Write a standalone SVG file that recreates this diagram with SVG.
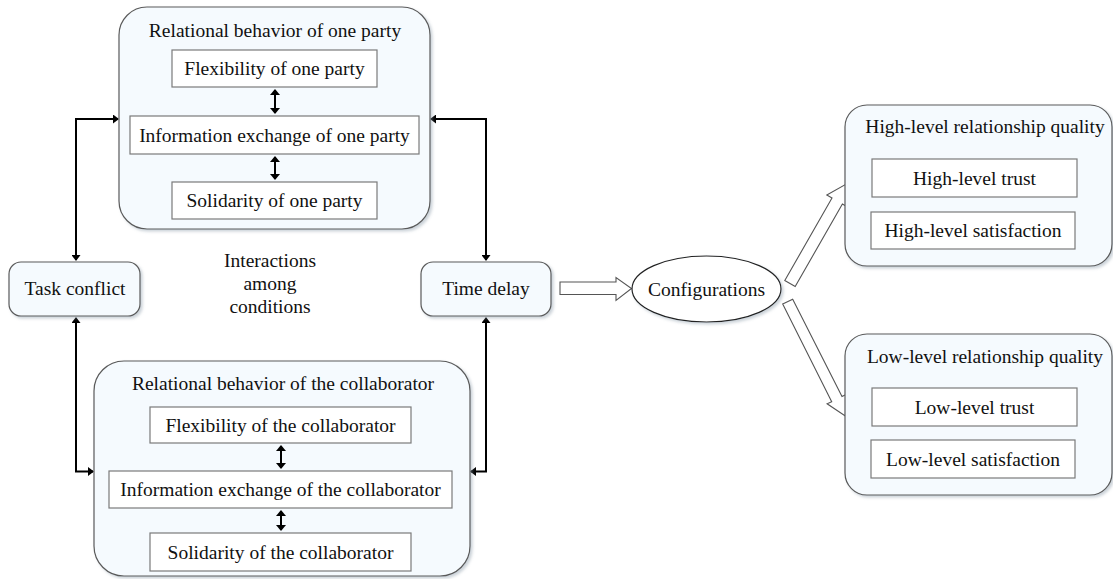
<svg xmlns="http://www.w3.org/2000/svg" width="1113" height="579" viewBox="0 0 1113 579">
<style>
text{font-family:"Liberation Serif","Times New Roman",serif;font-size:19.5px;fill:#111;text-anchor:middle}
.cont{fill:#f5fafe;stroke:#5a5a5a;stroke-width:1.2;filter:url(#sh)}
.box{fill:#fff;stroke:#7a7a7a;stroke-width:1.2}
.conn{fill:none;stroke:#000;stroke-width:2}
.blk{fill:#fff;stroke:#555;stroke-width:1.1}
</style>
<defs>
<filter id="sh" x="-10%" y="-10%" width="120%" height="120%">
<feDropShadow dx="2" dy="2" stdDeviation="1.5" flood-color="#8a9aa8" flood-opacity="0.45"/>
</filter>
<marker id="ah" viewBox="0 0 6 9" refX="5" refY="4.5" markerWidth="6" markerHeight="9" orient="auto-start-reverse" markerUnits="userSpaceOnUse">
<path d="M0,0 L6,4.5 L0,9 z" fill="#000"/>
</marker>
<marker id="ah2" viewBox="0 0 6 10" refX="5" refY="5" markerWidth="6" markerHeight="10" orient="auto-start-reverse" markerUnits="userSpaceOnUse">
<path d="M0,0 L6,5 L0,10 z" fill="#000"/>
</marker>
</defs>

<g id="connectors">
<path class="conn" d="M76,260 V119 H118" marker-start="url(#ah)" marker-end="url(#ah)"/>
<path class="conn" d="M76,318 V471.5 H93" marker-start="url(#ah)" marker-end="url(#ah)"/>
<path class="conn" d="M486,260 V119 H431" marker-start="url(#ah)" marker-end="url(#ah)"/>
<path class="conn" d="M486,318 V471.5 H471" marker-start="url(#ah)" marker-end="url(#ah)"/>
<polygon class="blk" points="560,282 616,282 616,277.5 631.5,288.5 616,300.5 616,294.5 560,294.5"/>
<polygon class="blk" points="784.8,280.5 832,198 826.8,195 847.1,183.6 847.6,207 842.4,204 795.2,286.5"/>
<polygon class="blk" points="792.7,299.3 842,396.5 846.6,394.2 845.3,416 827.1,403.8 831.7,401.7 782.7,304"/>
</g>

<g id="top-group">
<rect class="cont" x="119" y="7" width="311" height="222" rx="28" ry="28"/>
<text x="275" y="37">Relational behavior of one party</text>
</g>
<g id="flex-one">
<rect class="box" x="172" y="50" width="205" height="37"/>
<text x="274.5" y="75">Flexibility of one party</text>
</g>
<g id="info-one">
<rect class="box" x="130" y="116" width="289" height="38"/>
<text x="274.5" y="141.5">Information exchange of one party</text>
</g>
<g id="soli-one">
<rect class="box" x="172" y="182" width="205" height="37"/>
<text x="274.5" y="207">Solidarity of one party</text>
</g>
<g id="inner-arrows-one">
<path class="conn" d="M275,90 V113" marker-start="url(#ah2)" marker-end="url(#ah2)"/>
<path class="conn" d="M275,157 V179" marker-start="url(#ah2)" marker-end="url(#ah2)"/>
</g>

<g id="bottom-group">
<rect class="cont" x="94" y="361" width="376" height="215" rx="30" ry="30"/>
<text x="283" y="390">Relational behavior of the collaborator</text>
</g>
<g id="flex-col">
<rect class="box" x="150" y="407" width="261" height="36"/>
<text x="280.5" y="431.5">Flexibility of the collaborator</text>
</g>
<g id="info-col">
<rect class="box" x="109" y="471" width="343" height="37"/>
<text x="280.5" y="496">Information exchange of the collaborator</text>
</g>
<g id="soli-col">
<rect class="box" x="150" y="533" width="261" height="38"/>
<text x="280.5" y="558.5">Solidarity of the collaborator</text>
</g>
<g id="inner-arrows-col">
<path class="conn" d="M281,446 V468" marker-start="url(#ah2)" marker-end="url(#ah2)"/>
<path class="conn" d="M281,511 V530" marker-start="url(#ah2)" marker-end="url(#ah2)"/>
</g>

<g id="task-conflict">
<rect class="cont" x="9" y="262" width="131" height="54" rx="12" ry="12"/>
<text x="75" y="295">Task conflict</text>
</g>
<g id="time-delay">
<rect class="cont" x="421" y="262" width="130" height="54" rx="12" ry="12"/>
<text x="486" y="295">Time delay</text>
</g>
<g id="interactions">
<text x="270" y="267">Interactions</text>
<text x="270" y="290">among</text>
<text x="270" y="313">conditions</text>
</g>
<g id="configurations">
<ellipse cx="706.5" cy="289" rx="74.5" ry="33" fill="#fff" stroke="#222" stroke-width="1.2" filter="url(#sh)"/>
<text x="706.5" y="295.5">Configurations</text>
</g>

<g id="high-quality">
<rect class="cont" x="845" y="105" width="267" height="161" rx="22" ry="22"/>
<text x="985" y="133">High-level relationship quality</text>
</g>
<g id="high-trust">
<rect class="box" x="872" y="159" width="205" height="38"/>
<text x="974.5" y="184.5">High-level trust</text>
</g>
<g id="high-sat">
<rect class="box" x="871" y="212" width="204" height="37"/>
<text x="973" y="237">High-level satisfaction</text>
</g>

<g id="low-quality">
<rect class="cont" x="845" y="334" width="267" height="161" rx="22" ry="22"/>
<text x="985" y="363">Low-level relationship quality</text>
</g>
<g id="low-trust">
<rect class="box" x="872" y="388" width="205" height="38"/>
<text x="974.5" y="413.5">Low-level trust</text>
</g>
<g id="low-sat">
<rect class="box" x="871" y="440" width="204" height="38"/>
<text x="973" y="465.5">Low-level satisfaction</text>
</g>
</svg>
